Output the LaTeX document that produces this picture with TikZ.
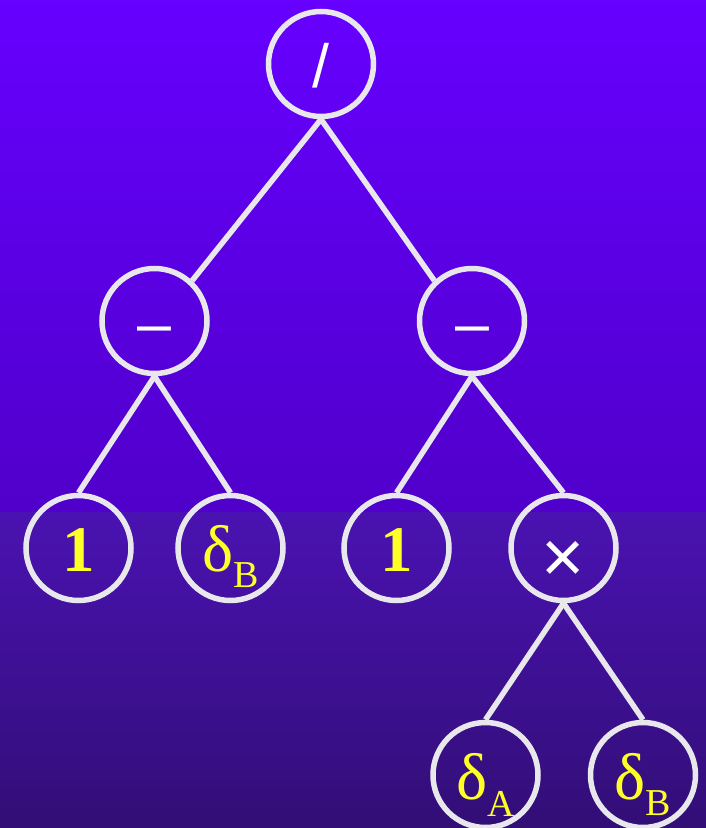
\documentclass[tikz,border=0pt]{standalone}
\usepackage{fontspec}
\setmainfont{Liberation Serif}
\newfontfamily\sansf{Liberation Sans}
\begin{document}
\begin{tikzpicture}[x=1pt,y=-1pt,
  tnode/.style={circle,draw=edgecol,line width=5.5pt,minimum size=105pt,inner sep=0pt,text depth=0pt},
  opt/.style={text=white,font=\sansf\fontsize{61}{61}\selectfont,text height=46pt},
  mult/.style={text=white,font=\sansf\fontsize{74}{74}\selectfont,text height=68pt},
  one/.style={text=txtyel,font=\bfseries\fontsize{65}{65}\selectfont,text height=46pt},
  dlt/.style={text=txtyel,font=\fontsize{66}{66}\selectfont,text height=#1},
  conn/.style={draw=edgecol,line width=5.5pt}]
\definecolor{edgecol}{RGB}{232,232,236}
\definecolor{txtyel}{RGB}{255,255,40}
\definecolor{bgA}{RGB}{102,0,255}
\definecolor{bgB}{RGB}{80,0,202}
\definecolor{bgC}{RGB}{74,18,178}
\definecolor{bgD}{RGB}{50,14,118}
\useasboundingbox (0,0) rectangle (706,828);
\shade[top color=bgA,bottom color=bgB] (0,0) rectangle (706,513);
\shade[top color=bgC,bottom color=bgD] (0,512) rectangle (706,828);
\node[tnode,opt] (root) at (321,64) {/};
\node[tnode,opt] (lm) at (154.5,321) {–};
\node[tnode,opt] (rm) at (472,321) {–};
\node[tnode,one] (l1) at (78.5,548) {1};
\node[tnode,dlt=46pt] (ldb) at (230.5,548) {δ\raisebox{-16pt}{\fontsize{38}{38}\selectfont B}};
\node[tnode,one] (r1) at (396.5,548) {1};
\node[tnode,mult] (mul) at (563.5,548) {×};
\node[tnode,dlt=48pt] (da) at (485.5,775) {δ\raisebox{-17pt}{\fontsize{38}{38}\selectfont A}};
\node[tnode,dlt=48pt] (db) at (643,775) {δ\raisebox{-16pt}{\fontsize{38}{38}\selectfont B}};
\draw[conn] (root.south) -- (lm.47);
\draw[conn] (root.south) -- (rm.133);
\draw[conn] (lm.south) -- (l1.north);
\draw[conn] (lm.south) -- (ldb.north);
\draw[conn] (rm.south) -- (r1.north);
\draw[conn] (rm.south) -- (mul.north);
\draw[conn] (mul.south) -- (da.north);
\draw[conn] (mul.south) -- (db.north);
\end{tikzpicture}
\end{document}
